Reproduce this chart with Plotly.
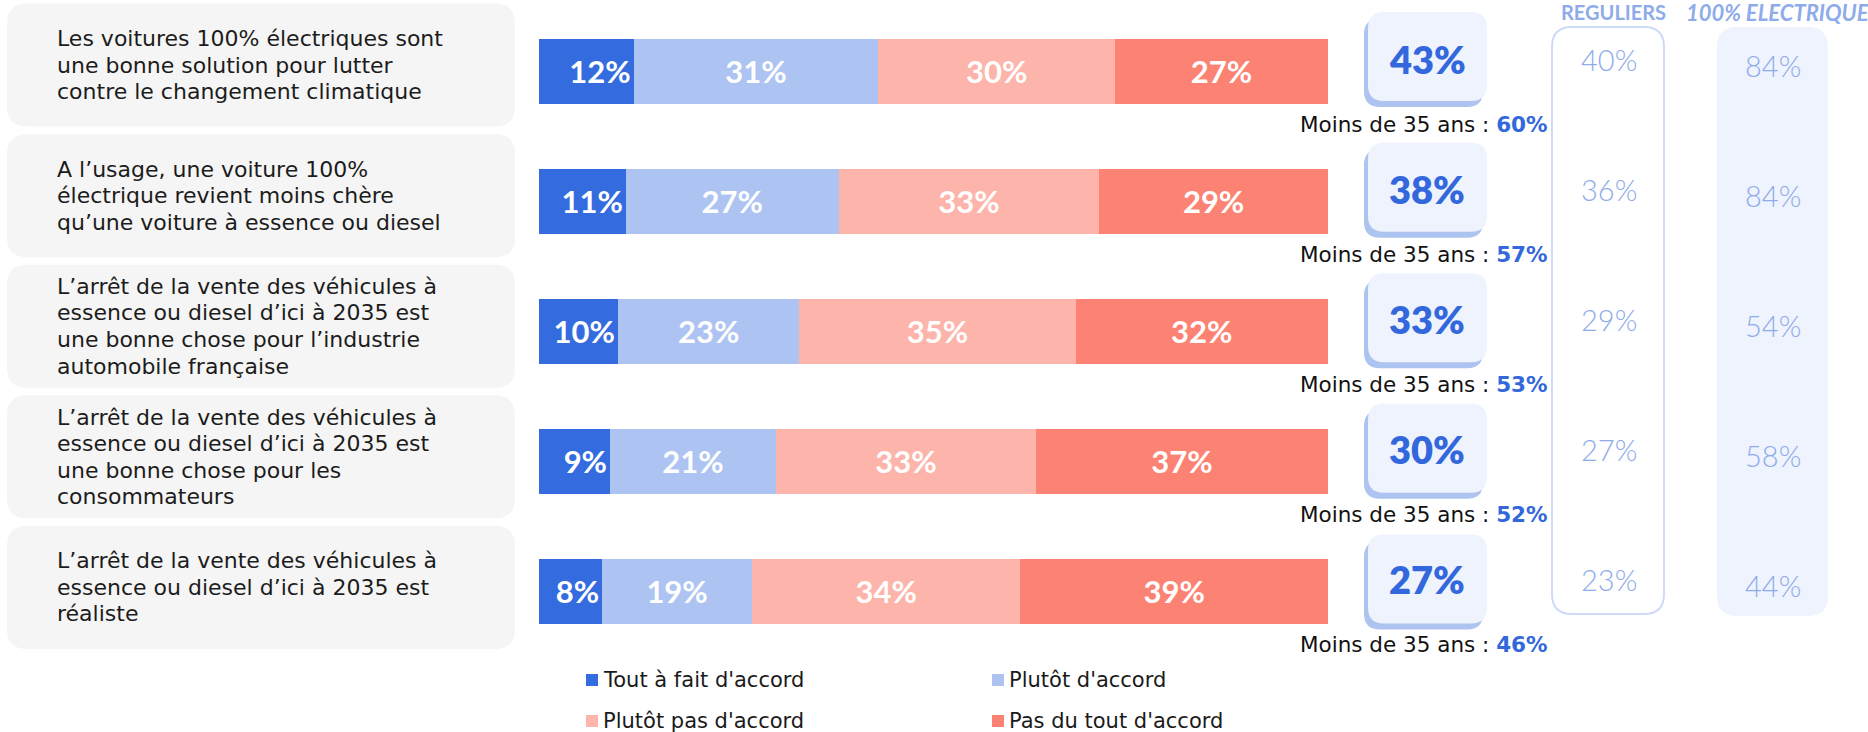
import plotly.graph_objects as go

# ---- data -------------------------------------------------------------
questions = [
    "Les voitures 100% électriques sont<br>une bonne solution pour lutter<br>contre le changement climatique",
    "A l’usage, une voiture 100%<br>électrique revient moins chère<br>qu’une voiture à essence ou diesel",
    "L’arrêt de la vente des véhicules à<br>essence ou diesel d’ici à 2035 est<br>une bonne chose pour l’industrie<br>automobile française",
    "L’arrêt de la vente des véhicules à<br>essence ou diesel d’ici à 2035 est<br>une bonne chose pour les<br>consommateurs",
    "L’arrêt de la vente des véhicules à<br>essence ou diesel d’ici à 2035 est<br>réaliste",
]
series_names = ["Tout à fait d'accord", "Plutôt d'accord", "Plutôt pas d'accord", "Pas du tout d'accord"]
tout_a_fait = [12, 11, 10, 9, 8]
plutot = [31, 27, 23, 21, 19]
plutot_pas = [30, 33, 35, 33, 34]
pas_du_tout = [27, 29, 32, 37, 39]
moins_35 = [60, 57, 53, 52, 46]
reguliers = [40, 36, 29, 27, 23]
electrique = [84, 84, 54, 58, 44]
col_titles = ["REGULIERS", "100% ELECTRIQUE"]

series_values = [tout_a_fait, plutot, plutot_pas, pas_du_tout]
colors = ["#346ce0", "#adc3f1", "#fdb4aa", "#fc8373"]
total_accord = [a + b for a, b in zip(tout_a_fait, plutot)]

# ---- geometry (pixels) -----------------------------------------------
W, H = 1868, 732
FONT = "Lato"
TXT_FONT = "DejaVu Sans"
PLOT_TOP, PLOT_BOT = 3.2, 656.3
BAR_X0, BAR_X1 = 539, 1328
pitch = (PLOT_BOT - PLOT_TOP) / len(questions)
LINE_H = 26.5


def px(x):
    return x / W


def py(y):
    return 1 - y / H


def row_c(i):
    return PLOT_TOP + (i + 0.5) * pitch


def rrect(x0, y0, x1, y1, r):
    pts = [
        ("M", [(x0 + r, y0)]),
        ("L", [(x1 - r, y0)]),
        ("Q", [(x1, y0), (x1, y0 + r)]),
        ("L", [(x1, y1 - r)]),
        ("Q", [(x1, y1), (x1 - r, y1)]),
        ("L", [(x0 + r, y1)]),
        ("Q", [(x0, y1), (x0, y1 - r)]),
        ("L", [(x0, y0 + r)]),
        ("Q", [(x0, y0), (x0 + r, y0)]),
    ]
    s = ""
    for cmd, ps in pts:
        s += cmd + " " + " ".join(f"{px(a):.6f},{py(b):.6f}" for a, b in ps) + " "
    return s + "Z"


fig = go.Figure()
for k, (name, vals, col) in enumerate(zip(series_names, series_values, colors)):
    fig.add_trace(go.Bar(
        y=questions, x=vals, name=name, orientation="h",
        marker=dict(color=col, line=dict(width=0)),
        width=0.5,
        text=[f"{v}%" for v in vals], textposition="inside",
        insidetextanchor="end" if k == 0 else "middle",
        textfont=dict(family=FONT, size=31, color="white", weight=700),
        hoverinfo="skip", showlegend=False,
    ))

shapes = []
ann = []

for i, q in enumerate(questions):
    c = row_c(i)
    # question card
    shapes.append(dict(type="path", path=rrect(7, c - 65, 515, c + 58, 20),
                       xref="paper", yref="paper", fillcolor="#f5f5f5",
                       line=dict(width=0), layer="below"))
    lines = q.split("<br>")
    first = c - 3.5 - (len(lines) - 1) * LINE_H / 2
    for j, line in enumerate(lines):
        ann.append(dict(x=px(55), xref="paper", y=py(first + j * LINE_H), yref="paper",
                        xanchor="left", yanchor="middle", align="left", text=line,
                        showarrow=False,
                        font=dict(family=TXT_FONT, size=22, color="#1c1c1c")))
    # total agreement tile with offset shadow
    shapes.append(dict(type="path", path=rrect(1364, c - 50, 1483, c + 38.5, 16),
                       xref="paper", yref="paper", fillcolor="#adc3f0",
                       line=dict(width=0), layer="below"))
    shapes.append(dict(type="path", path=rrect(1368, c - 56.5, 1487, c + 32.5, 16),
                       xref="paper", yref="paper", fillcolor="#eef3fd",
                       line=dict(width=0), layer="below"))
    ann.append(dict(x=px(1427), xref="paper", y=q, yref="y", yshift=12,
                    xanchor="center", yanchor="middle", text=f"{total_accord[i]}%",
                    showarrow=False,
                    font=dict(family=FONT, size=38, color="#3368dd", weight=800)))
    ann.append(dict(x=px(1550), xref="paper", y=q, yref="y", yshift=-53.5,
                    xanchor="right", yanchor="middle",
                    text=f"Moins de 35 ans : <b><span style='color:#3368dd'>{moins_35[i]}%</span></b>",
                    showarrow=False, font=dict(family=TXT_FONT, size=21.5, color="#111111")))
    ann.append(dict(x=px(1609), xref="paper", y=q, yref="y", yshift=11.5,
                    xanchor="center", yanchor="middle", text=f"{reguliers[i]}%",
                    showarrow=False,
                    font=dict(family=FONT, size=29, color="#8eabea", weight=300)))
    ann.append(dict(x=px(1773), xref="paper", y=q, yref="y", yshift=5.5,
                    xanchor="center", yanchor="middle", text=f"{electrique[i]}%",
                    showarrow=False,
                    font=dict(family=FONT, size=29, color="#8eabea", weight=300)))

# side columns
shapes.append(dict(type="path", path=rrect(1552, 27, 1664, 614, 20),
                   xref="paper", yref="paper", fillcolor="white",
                   line=dict(width=2, color="#cddbf7"), layer="below"))
shapes.append(dict(type="path", path=rrect(1717, 27, 1828, 616, 20),
                   xref="paper", yref="paper", fillcolor="#eef3fd",
                   line=dict(width=0), layer="below"))
ann.append(dict(x=px(1613), y=py(12), xref="paper", yref="paper",
                xanchor="center", yanchor="middle", text=f"<b>{col_titles[0]}</b>",
                showarrow=False, font=dict(family=FONT, size=20, color="#8eabea")))
ann.append(dict(x=px(1778), y=py(12), xref="paper", yref="paper",
                xanchor="center", yanchor="middle", text=f"<b><i>{col_titles[1]}</i></b>",
                showarrow=False, font=dict(family=FONT, size=22, color="#8eabea")))

# legend
leg_pos = [(586, 680), (992, 680), (586, 721), (992, 721)]
for (lx, ly), name, col in zip(leg_pos, series_names, colors):
    shapes.append(dict(type="rect", xref="paper", yref="paper",
                       x0=px(lx), x1=px(lx + 12), y0=py(ly - 6), y1=py(ly + 6),
                       fillcolor=col, line=dict(width=0)))
    ann.append(dict(x=px(lx + 15), y=py(ly), xref="paper", yref="paper",
                    xanchor="left", yanchor="middle", text=name, showarrow=False,
                    font=dict(family=TXT_FONT, size=21, color="#1a1a1a")))

fig.update_layout(
    width=W, height=H, barmode="stack",
    margin=dict(l=0, r=0, t=0, b=0),
    paper_bgcolor="white", plot_bgcolor="rgba(0,0,0,0)",
    uniformtext=dict(minsize=20, mode="show"),
    xaxis=dict(domain=[px(BAR_X0), px(BAR_X1)], range=[0, 100],
               showgrid=False, zeroline=False, showticklabels=False, fixedrange=True),
    yaxis=dict(domain=[py(PLOT_BOT), py(PLOT_TOP)], categoryorder="array",
               categoryarray=questions, autorange="reversed",
               showgrid=False, zeroline=False, showticklabels=False, fixedrange=True),
    shapes=shapes, annotations=ann,
)

fig.write_html("out.html", config={"displayModeBar": False})
